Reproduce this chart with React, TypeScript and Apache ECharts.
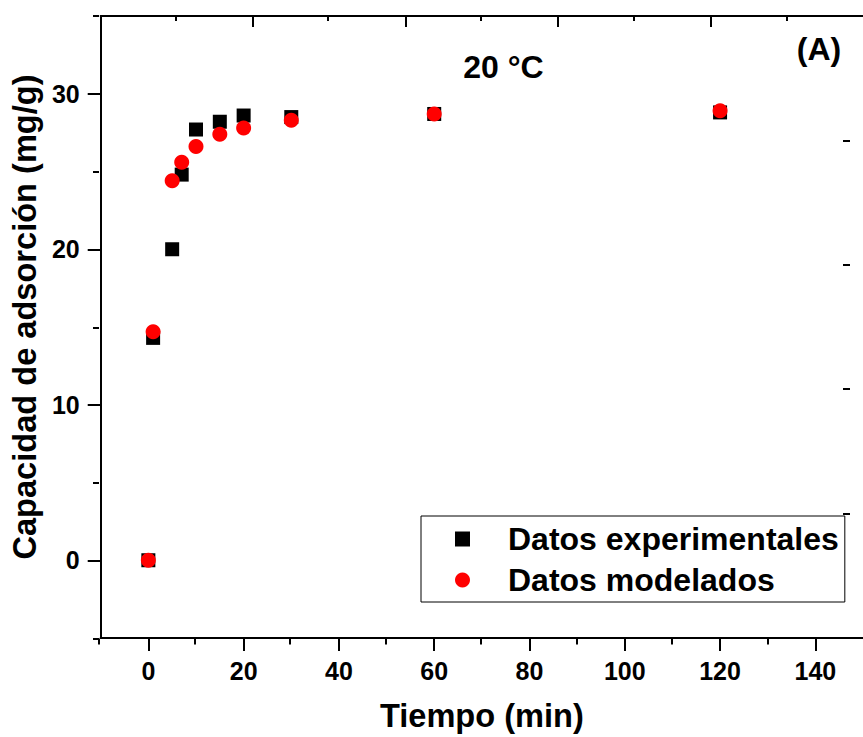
import React, { useEffect, useRef } from "react";
import * as echarts from "echarts";

const timeMin = [0, 1, 5, 7, 10, 15, 20, 30, 60, 120];
const expValues = [0, 14.3, 20.0, 24.8, 27.7, 28.2, 28.6, 28.5, 28.7, 28.8];
const modelValues = [0, 14.7, 24.4, 25.6, 26.6, 27.4, 27.8, 28.3, 28.7, 28.9];

const xMajorTicks = [0, 20, 40, 60, 80, 100, 120, 140];
const xMinorTicks = [-10, 10, 30, 50, 70, 90, 110, 130];
const yMajorTicks = [0, 10, 20, 30];
const yMinorTicks = [-5, 5, 15, 25, 35];
const topMajorTicks = [2, 4, 6, 8];
const topMinorTicks = [1, 3, 5, 7, 9];
const rightTicks = [1, 2, 3, 4];

const seriesNames = ["Datos experimentales", "Datos modelados"];
const tempLabel = "20 °C";
const panelLabel = "(A)";

const FONT = '"Liberation Sans", Arial, Helvetica, sans-serif';

export default function App() {
  const ref = useRef<HTMLDivElement>(null);
  useEffect(() => {
    document.body.style.margin = "0";
    const chart = echarts.init(ref.current!, null, { renderer: "svg" });
    const ls = () => ({ color: "#000", width: 2 });
    const gridRect = { left: 99, top: 16, right: -9, bottom: 98.5, containLabel: false };
    const hiddenLine = { show: false, onZero: false };
    const option: any = {
      animation: false,
      backgroundColor: "#fff",
      grid: [{ ...gridRect }, { ...gridRect }],
      xAxis: [
        {
          gridIndex: 0,
          type: "value",
          position: "bottom",
          min: -10,
          max: 150,
          axisLine: { show: true, onZero: false, lineStyle: ls() },
          axisTick: { show: true, inside: false, length: 13, lineStyle: ls(), customValues: xMajorTicks },
          axisLabel: {
            show: true,
            customValues: xMajorTicks,
            margin: 20,
            fontFamily: FONT,
            fontWeight: "bold",
            fontSize: 25,
            color: "#000",
          },
          splitLine: { show: false },
          name: "Tiempo (min)",
          nameLocation: "middle",
          nameGap: 61,
          nameTextStyle: { fontFamily: FONT, fontWeight: "bold", fontSize: 32.6, color: "#000" },
        },
        {
          gridIndex: 0,
          type: "value",
          position: "top",
          min: 0,
          max: 10,
          axisLine: { show: true, onZero: false, lineStyle: ls() },
          axisTick: { show: true, inside: true, length: 11, lineStyle: ls(), customValues: topMajorTicks },
          axisLabel: { show: false },
          splitLine: { show: false },
        },
        {
          gridIndex: 1,
          type: "value",
          position: "bottom",
          min: -10,
          max: 150,
          axisLine: hiddenLine,
          axisTick: { show: true, inside: false, length: 6, lineStyle: ls(), customValues: xMinorTicks },
          axisLabel: { show: false },
          splitLine: { show: false },
        },
        {
          gridIndex: 1,
          type: "value",
          position: "top",
          min: 0,
          max: 10,
          axisLine: hiddenLine,
          axisTick: { show: true, inside: true, length: 5, lineStyle: ls(), customValues: topMinorTicks },
          axisLabel: { show: false },
          splitLine: { show: false },
        },
      ],
      yAxis: [
        {
          gridIndex: 0,
          type: "value",
          position: "left",
          min: -5,
          max: 35,
          axisLine: { show: true, onZero: false, lineStyle: ls() },
          axisTick: { show: true, inside: false, length: 13, lineStyle: ls(), customValues: yMajorTicks },
          axisLabel: {
            show: true,
            customValues: yMajorTicks,
            margin: 21,
            fontFamily: FONT,
            fontWeight: "bold",
            fontSize: 25,
            color: "#000",
          },
          splitLine: { show: false },
          name: "Capacidad de adsorción (mg/g)",
          nameLocation: "middle",
          nameGap: 56,
          nameTextStyle: {
            fontFamily: FONT,
            fontWeight: "bold",
            fontSize: 32.6,
            color: "#000",
            padding: [0, 0, 0, 20],
          },
        },
        {
          gridIndex: 0,
          type: "value",
          position: "right",
          offset: -13,
          min: 0,
          max: 5,
          axisLine: hiddenLine,
          axisTick: { show: true, inside: true, length: 7, lineStyle: ls(), customValues: rightTicks },
          axisLabel: { show: false },
          splitLine: { show: false },
        },
        {
          gridIndex: 1,
          type: "value",
          position: "left",
          min: -5,
          max: 35,
          axisLine: hiddenLine,
          axisTick: { show: true, inside: false, length: 6, lineStyle: ls(), customValues: yMinorTicks },
          axisLabel: { show: false },
          splitLine: { show: false },
        },
      ],
      legend: {
        orient: "vertical",
        left: 421,
        top: 516,
        data: seriesNames,
        backgroundColor: "#fff",
        borderColor: "#000",
        borderWidth: 1,
        padding: [5, 6, 4, 34],
        itemWidth: 15,
        itemHeight: 15,
        itemGap: 5,
        formatter: (name: string) => `{s|\u00a0}{t|${name}}`,
        textStyle: {
          fontFamily: FONT,
          fontWeight: "bold",
          fontSize: 32,
          color: "#000",
          lineHeight: 36,
          rich: {
            s: { width: 33, fontSize: 32, lineHeight: 36 },
            t: { fontFamily: FONT, fontWeight: "bold", fontSize: 32, color: "#000", lineHeight: 36 },
          },
        },
      },
      series: [
        {
          name: seriesNames[0],
          type: "scatter",
          xAxisIndex: 0,
          yAxisIndex: 0,
          symbol: "rect",
          symbolSize: 14,
          itemStyle: { color: "#000", opacity: 1 },
          data: timeMin.map((t, i) => [t, expValues[i]]),
          z: 2,
        },
        {
          name: seriesNames[1],
          type: "scatter",
          xAxisIndex: 0,
          yAxisIndex: 0,
          symbol: "circle",
          symbolSize: 15,
          itemStyle: { color: "#ff0000", opacity: 1 },
          data: timeMin.map((t, i) => [t, modelValues[i]]),
          z: 3,
        },
      ],
      graphic: [
        {
          type: "text",
          x: 503.5,
          y: 67,
          style: {
            text: tempLabel,
            font: `bold 32px ${FONT}`,
            fill: "#000",
            textAlign: "center",
            textVerticalAlign: "middle",
          },
        },
        {
          type: "text",
          x: 819,
          y: 49,
          style: {
            text: panelLabel,
            font: `bold 32px ${FONT}`,
            fill: "#000",
            textAlign: "center",
            textVerticalAlign: "middle",
          },
        },
      ],
    };
    chart.setOption(option);
    return () => chart.dispose();
  }, []);
  return (
    <div
      ref={ref}
      style={{ position: "fixed", left: 0, top: 0, width: 863, height: 737 }}
    />
  );
}
